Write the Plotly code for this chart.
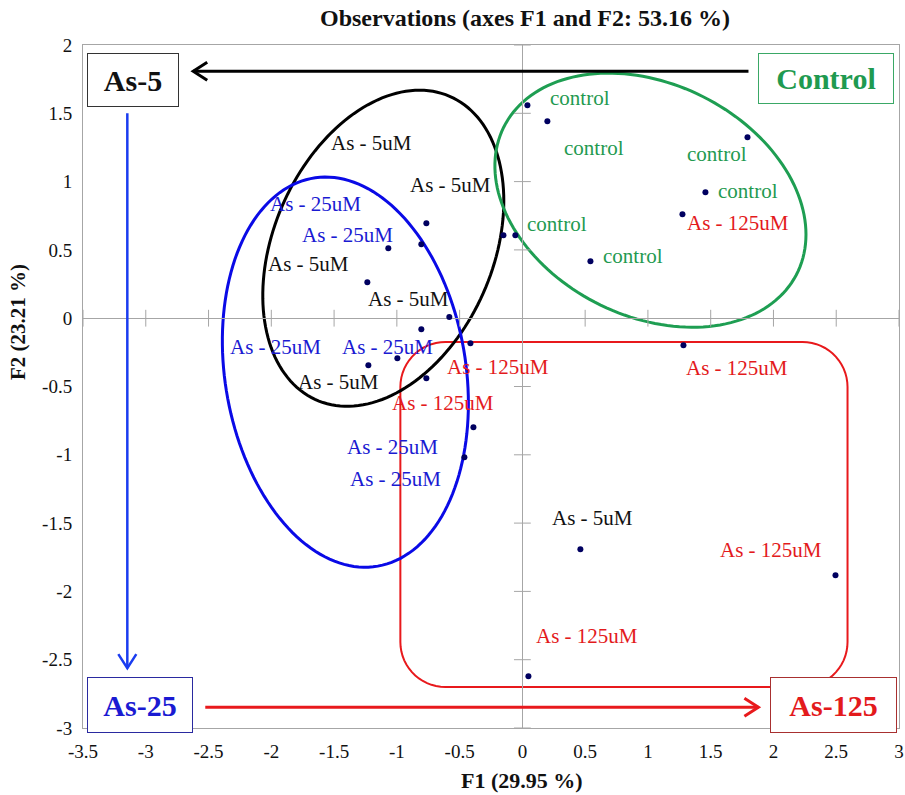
import numpy as np
import plotly.graph_objects as go

# ---------------- data ----------------
OBS_X = [0.040, 0.199, 1.793, 1.458, 0.542, -0.056,
         1.275, -0.765, -0.414, 1.283, 2.494, 0.048,
         -0.151, -0.765, -1.235, -0.582, -1.227, 0.462,
         -0.805, -1.068, -0.805, -0.996, -0.390, -0.462]
OBS_Y = [1.559, 1.442, 1.325, 0.922, 0.417, 0.607,
         0.761, -0.439, -0.183, -0.198, -1.881, -2.621,
         0.607, 0.695, 0.264, 0.008, -0.344, -1.691,
         0.541, 0.512, -0.081, -0.293, -0.798, -1.018]
OBS_LABEL = ["control", "control", "control", "control", "control", "control",
             "As - 125uM", "As - 125uM", "As - 125uM", "As - 125uM", "As - 125uM", "As - 125uM",
             "As - 5uM", "As - 5uM", "As - 5uM", "As - 5uM", "As - 5uM", "As - 5uM",
             "As - 25uM", "As - 25uM", "As - 25uM", "As - 25uM", "As - 25uM", "As - 25uM"]
# label anchor positions (data coordinates, as placed on the chart)
LABEL_X = [0.462, 0.574, 1.554, 1.801, 0.884, 0.279,
           1.721, -0.629, -0.191, 1.713, 1.984, 0.518,
           -0.574, -1.203, -1.705, -0.908, -1.466, 0.558,
           -1.394, -1.649, -1.076, -1.968, -1.036, -1.012]
LABEL_Y = [1.611, 1.247, 1.203, 0.932, 0.455, 0.689,
           0.695, -0.622, -0.359, -0.366, -1.698, -2.328,
           0.974, 1.281, 0.395, 0.139, -0.469, -1.464,
           0.608, 0.835, -0.212, -0.212, -0.944, -1.179]

X_TICKS = [-3.5, -3, -2.5, -2, -1.5, -1, -0.5, 0, 0.5, 1, 1.5, 2, 2.5, 3]
X_TICKTEXT = ["-3.5", "-3", "-2.5", "-2", "-1.5", "-1", "-0.5", "0", "0.5", "1", "1.5", "2", "2.5", "3"]
Y_TICKS = [-3, -2.5, -2, -1.5, -1, -0.5, 0, 0.5, 1, 1.5, 2]
Y_TICKTEXT = ["-3", "-2.5", "-2", "-1.5", "-1", "-0.5", "0", "0.5", "1", "1.5", "2"]

TITLE = "Observations (axes F1 and F2: 53.16 %)"
X_TITLE = "F1 (29.95 %)"
Y_TITLE = "F2 (23.21 %)"

# ---------------- styles ----------------
W, H = 905, 795
ML, MR, MT, MB = 83, 6, 45, 67
XR = (-3.5, 3.0)
YR = (-3.0, 2.0)
PW, PH = W - ML - MR, H - MT - MB
SX = PW / (XR[1] - XR[0])   # px per x unit
SY = PH / (YR[1] - YR[0])   # px per y unit

SERIF = "Liberation Serif, Times New Roman, serif"
GREEN = "#1f9a50"
BLUE = "#1a1ad2"
RED = "#e31a1c"
BLACK = "#111111"
COLOR = {"control": GREEN, "As - 125uM": RED, "As - 5uM": BLACK, "As - 25uM": BLUE}
AXIS_GRAY = "#a6a6a6"

fig = go.Figure()

# tick marks crossing the zero lines
fig.add_trace(go.Scatter(x=[v for v in X_TICKS if v != 0], y=[0] * (len(X_TICKS) - 1),
                         mode="markers", hoverinfo="skip", showlegend=False,
                         marker=dict(symbol="line-ns", size=12, line=dict(color=AXIS_GRAY, width=1))))
fig.add_trace(go.Scatter(x=[0] * (len(Y_TICKS) - 1), y=[v for v in Y_TICKS if v != 0],
                         mode="markers", hoverinfo="skip", showlegend=False,
                         marker=dict(symbol="line-ew", size=12, line=dict(color=AXIS_GRAY, width=1))))

# observations
fig.add_trace(go.Scatter(x=OBS_X, y=OBS_Y, mode="markers", showlegend=False,
                         text=OBS_LABEL, hoverinfo="x+y+text",
                         marker=dict(color="#000060", size=6)))

# point labels
for lx, ly, lab in zip(LABEL_X, LABEL_Y, OBS_LABEL):
    fig.add_annotation(x=lx, y=ly, text=lab, showarrow=False,
                       font=dict(family=SERIF, size=21, color=COLOR[lab]),
                       xanchor="center", yanchor="middle")


# ---------------- group outlines ----------------
def ellipse_path(cx, cy, rx, ry, rho, n=160):
    t = np.linspace(0, 2 * np.pi, n)
    xs = cx + rx * np.cos(t)
    ys = cy + ry * (rho * np.cos(t) + np.sqrt(1 - rho ** 2) * np.sin(t))
    return "M " + " L ".join(f"{a:.4f},{b:.4f}" for a, b in zip(xs, ys)) + " Z"


def rounded_rect_path(x0, y0, x1, y1, rpx, n=16):
    rx, ry = rpx / SX, rpx / SY
    pts = []
    corners = [(x1 - rx, y1 - ry, 0.0), (x0 + rx, y1 - ry, 0.5 * np.pi),
               (x0 + rx, y0 + ry, np.pi), (x1 - rx, y0 + ry, 1.5 * np.pi)]
    for ccx, ccy, a0 in corners:
        for a in np.linspace(a0, a0 + 0.5 * np.pi, n):
            pts.append((ccx + rx * np.cos(a), ccy + ry * np.sin(a)))
    return "M " + " L ".join(f"{a:.4f},{b:.4f}" for a, b in pts) + " Z"


fig.add_shape(type="path", path=rounded_rect_path(-0.972, -2.700, 2.590, -0.174, 45),
              line=dict(color="#e8191c", width=2), layer="below")
fig.add_shape(type="path", path=ellipse_path(-1.108, 0.512, 0.960, 1.157, 0.30),
              line=dict(color="#000000", width=3), layer="below")
fig.add_shape(type="path", path=ellipse_path(-1.410, -0.395, 0.980, 1.428, -0.16),
              line=dict(color="#0a0ae6", width=3), layer="below")
fig.add_shape(type="path", path=ellipse_path(1.020, 0.864, 1.239, 0.930, -0.27),
              line=dict(color="#1e9e52", width=3), layer="below")


# ---------------- arrows ----------------
def arrow(x0, y0, x1, y1, color, width, head_len=14, head_w=9):
    fig.add_shape(type="line", x0=x0, y0=y0, x1=x1, y1=y1,
                  line=dict(color=color, width=width))
    dxp, dyp = (x1 - x0) * SX, (y1 - y0) * SY
    L = np.hypot(dxp, dyp)
    ux, uy = dxp / L, dyp / L
    px, py = -uy, ux
    bx, by = -ux * head_len, -uy * head_len
    a = (x1 + (bx + px * head_w) / SX, y1 + (by + py * head_w) / SY)
    b = (x1 + (bx - px * head_w) / SX, y1 + (by - py * head_w) / SY)
    fig.add_shape(type="path",
                  path=f"M {a[0]:.4f},{a[1]:.4f} L {x1:.4f},{y1:.4f} L {b[0]:.4f},{b[1]:.4f}",
                  line=dict(color=color, width=width))


arrow(1.801, 1.808, -2.622, 1.808, "#000000", 3)
arrow(-3.147, 1.501, -3.147, -2.562, "#1a3cf0", 2.5)
arrow(-2.526, -2.848, 1.880, -2.848, "#e8191c", 3)


# ---------------- group boxes ----------------
def box(x, y, text, w, h, tcolor, bcolor):
    fig.add_annotation(x=x, y=y, text=f"<b>{text}</b>", showarrow=False,
                       xanchor="center", yanchor="middle",
                       width=w - 2, height=h - 2, borderpad=0, borderwidth=1,
                       bordercolor=bcolor, bgcolor="white",
                       font=dict(family=SERIF, size=30, color=tcolor))


box(-3.100, 1.742, "As-5", 92, 54, "#111111", "#333333")
box(2.422, 1.753, "Control", 136, 51, GREEN, "#3aa866")
box(-3.044, -2.833, "As-25", 106, 56, BLUE, "#2a2aa0")
box(2.482, -2.833, "As-125", 127, 56, RED, "#a83030")

# axis titles (placed in pixel terms relative to the plot area)
fig.add_annotation(xref="paper", yref="paper", x=(522 - ML) / PW, y=-(780 - (H - MB)) / PH,
                   text=f"<b>{X_TITLE}</b>", showarrow=False, xanchor="center", yanchor="middle",
                   font=dict(family=SERIF, size=22, color="#111111"))
fig.add_annotation(xref="paper", yref="paper", x=-(ML - 18) / PW, y=(H - MB - 322) / PH,
                   text=f"<b>{Y_TITLE}</b>", showarrow=False, xanchor="center", yanchor="middle",
                   textangle=-90, font=dict(family=SERIF, size=21, color="#111111"))

# ---------------- layout ----------------
fig.update_layout(
    width=W, height=H,
    margin=dict(l=ML, r=MR, t=MT, b=MB, autoexpand=False),
    paper_bgcolor="white", plot_bgcolor="white",
    showlegend=False,
    title=dict(text=f"<b>{TITLE}</b>", x=525 / W, xanchor="center", xref="container",
               y=1 - 18 / H, yanchor="middle", yref="container",
               font=dict(family=SERIF, size=24, color="#111111")),
    xaxis=dict(range=list(XR), tickvals=X_TICKS, ticktext=X_TICKTEXT, automargin=False,
               showgrid=False, zeroline=True, zerolinecolor=AXIS_GRAY, zerolinewidth=1,
               showline=True, linecolor=AXIS_GRAY, linewidth=1, mirror=True,
               ticks="outside", ticklen=6, tickcolor="rgba(0,0,0,0)",
               tickfont=dict(family=SERIF, size=19, color="#111111")),
    yaxis=dict(range=list(YR), tickvals=Y_TICKS, ticktext=Y_TICKTEXT, automargin=False,
               showgrid=False, zeroline=True, zerolinecolor=AXIS_GRAY, zerolinewidth=1,
               showline=True, linecolor=AXIS_GRAY, linewidth=1, mirror=True,
               ticks="outside", ticklen=6, tickcolor="rgba(0,0,0,0)",
               tickfont=dict(family=SERIF, size=19, color="#111111")),
)

fig.write_html("out.html")
